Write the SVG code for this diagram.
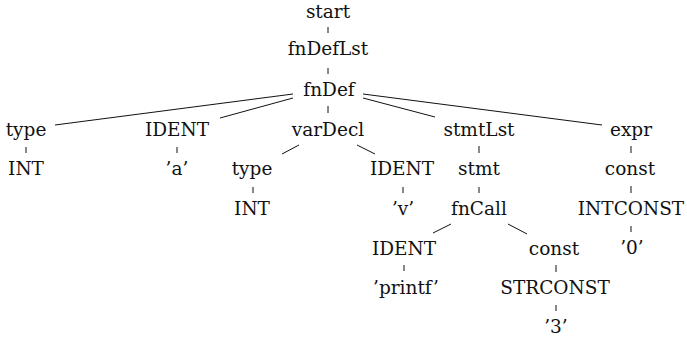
<svg xmlns="http://www.w3.org/2000/svg" width="687" height="344" viewBox="0 0 687 344">
  <defs>
    <style>
      .lbl text { font-family: "DejaVu Serif", "Liberation Serif", serif; font-size: 18.5px; fill: #111; text-anchor: middle; }
      #edges line { stroke: #111; stroke-width: 1; fill: none; }
    </style>
  </defs>
  <rect width="687" height="344" fill="#ffffff"/>

  <!-- tree edges -->
  <g id="edges">
    <line x1="328" y1="27" x2="328" y2="33"/>
    <line x1="328" y1="68" x2="328" y2="74"/>
    <line x1="293" y1="94" x2="55" y2="125"/>
    <line x1="293" y1="98" x2="220" y2="118"/>
    <line x1="328" y1="106" x2="328" y2="113"/>
    <line x1="363" y1="98" x2="435" y2="117"/>
    <line x1="363" y1="94" x2="602" y2="125"/>
    <line x1="26" y1="147" x2="26" y2="153"/>
    <line x1="177" y1="147" x2="177" y2="153"/>
    <line x1="299" y1="145" x2="282" y2="154"/>
    <line x1="357" y1="145" x2="375" y2="154"/>
    <line x1="479" y1="146" x2="479" y2="153"/>
    <line x1="631" y1="146" x2="631" y2="153"/>
    <line x1="253" y1="187" x2="253" y2="193"/>
    <line x1="403" y1="187" x2="403" y2="193"/>
    <line x1="479" y1="187" x2="479" y2="193"/>
    <line x1="631" y1="186" x2="631" y2="193"/>
    <line x1="451" y1="224" x2="433" y2="233"/>
    <line x1="508" y1="224" x2="527" y2="234"/>
    <line x1="631" y1="226" x2="631" y2="232"/>
    <line x1="404" y1="265" x2="404" y2="271"/>
    <line x1="556" y1="265" x2="556" y2="272"/>
    <line x1="556" y1="305" x2="556" y2="311"/>
  </g>

  <!-- tree nodes -->
  <g class="lbl">
  <g id="start"><text x="328" y="18">start</text></g>
  <g id="fnDefLst"><text x="328" y="55">fnDefLst</text></g>
  <g id="fnDef"><text x="329" y="96">fnDef</text></g>

  <g id="type1"><text x="26" y="136">type</text></g>
  <g id="ident1"><text x="177" y="136">IDENT</text></g>
  <g id="varDecl"><text x="328" y="136">varDecl</text></g>
  <g id="stmtLst"><text x="479" y="136">stmtLst</text></g>
  <g id="expr"><text x="631" y="136">expr</text></g>

  <g id="int1"><text x="26" y="175">INT</text></g>
  <g id="lit-a"><text x="177" y="175">’a’</text></g>
  <g id="type2"><text x="252" y="175">type</text></g>
  <g id="ident2"><text x="402" y="175">IDENT</text></g>
  <g id="stmt"><text x="479" y="175">stmt</text></g>
  <g id="const1"><text x="630" y="175">const</text></g>

  <g id="int2"><text x="252" y="215">INT</text></g>
  <g id="lit-v"><text x="403" y="215">’v’</text></g>
  <g id="fnCall"><text x="479" y="215">fnCall</text></g>
  <g id="intconst"><text x="631" y="215">INTCONST</text></g>

  <g id="ident3"><text x="404" y="255">IDENT</text></g>
  <g id="const2"><text x="554" y="255">const</text></g>
  <g id="lit-0"><text x="632" y="254">’0’</text></g>

  <g id="lit-printf"><text x="406" y="294">’printf’</text></g>
  <g id="strconst"><text x="555" y="294">STRCONST</text></g>

  <g id="lit-3"><text x="556" y="333">’3’</text></g>
  </g>
</svg>
